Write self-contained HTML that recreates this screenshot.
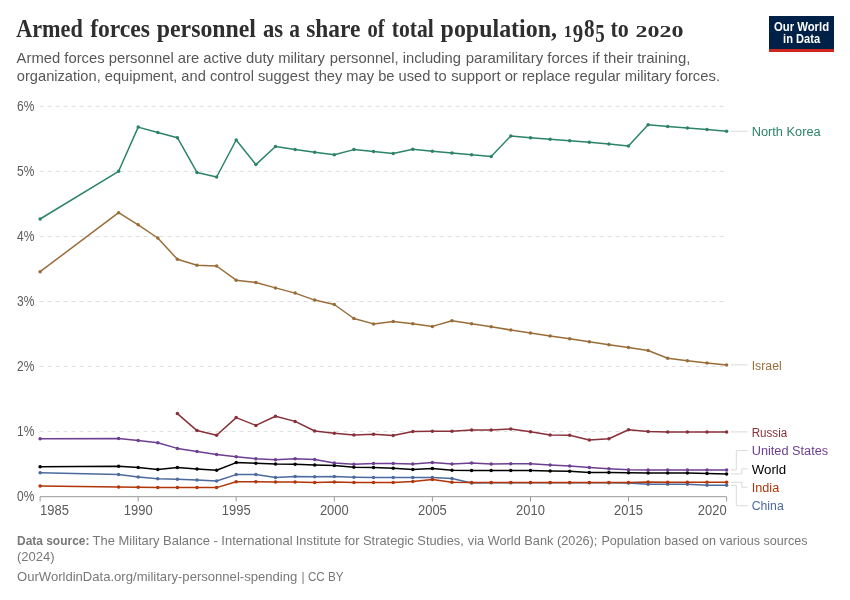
<!DOCTYPE html>
<html lang="en">
<head>
<meta charset="utf-8">
<title>Armed forces personnel as a share of total population, 1985 to 2020</title>
<style>
html,body{margin:0;padding:0;background:#fff;}
body{width:850px;height:600px;overflow:hidden;}
svg{display:block;}
text{font-family:"Liberation Sans", sans-serif;}
.title text{font-family:"Liberation Serif", serif;font-weight:700;fill:#2e2e2e;}
.sub{fill:#575757;font-size:15px;}
.tick{fill:#5b5b5b;font-size:14px;}
.foot{fill:#787878;font-size:13px;}
.lab{font-size:13.7px;}
.grid line{stroke:#ddd;stroke-width:1;stroke-dasharray:4 4;}
.conn{stroke:#dadada;stroke-width:1;fill:none;}
.logo{fill:#fff;font-weight:700;font-size:12.9px;text-anchor:middle;}
</style>
</head>
<body>
<svg width="850" height="600" viewBox="0 0 850 600">
<rect x="0" y="0" width="850" height="600" fill="#fff"/>
<g class="title" font-size="24.8">
<text x="16.2" y="36.9" textLength="66.6" lengthAdjust="spacingAndGlyphs">Armed</text>
<text x="90.2" y="36.9" textLength="59.8" lengthAdjust="spacingAndGlyphs">forces</text>
<text x="156.8" y="36.9" textLength="99.2" lengthAdjust="spacingAndGlyphs">personnel</text>
<text x="263.0" y="36.9" textLength="20.1" lengthAdjust="spacingAndGlyphs">as</text>
<text x="289.3" y="36.9" textLength="10.7" lengthAdjust="spacingAndGlyphs">a</text>
<text x="306.2" y="36.9" textLength="54.2" lengthAdjust="spacingAndGlyphs">share</text>
<text x="367.5" y="36.9" textLength="17.1" lengthAdjust="spacingAndGlyphs">of</text>
<text x="391.8" y="36.9" textLength="42.0" lengthAdjust="spacingAndGlyphs">total</text>
<text x="440.6" y="36.9" textLength="116.4" lengthAdjust="spacingAndGlyphs">population,</text>
<text y="36.9" lengthAdjust="spacingAndGlyphs"><tspan x="563.8" font-size="17.6" textLength="8.2" lengthAdjust="spacingAndGlyphs">1</tspan><tspan x="572.8" dy="4.6" font-size="24.8" textLength="10.4" lengthAdjust="spacingAndGlyphs">9</tspan><tspan x="584" dy="-4.6" font-size="24.8" textLength="10.6" lengthAdjust="spacingAndGlyphs">8</tspan><tspan x="595.2" dy="4.6" font-size="24.8" textLength="9.5" lengthAdjust="spacingAndGlyphs">5</tspan></text>
<text x="610.4" y="36.9" textLength="18.3" lengthAdjust="spacingAndGlyphs">to</text>
<text x="635.5" y="36.9" font-size="17.6" textLength="48.0" lengthAdjust="spacingAndGlyphs">2020</text>
</g>
<text class="sub" x="16.6" y="63.0" textLength="308.4" lengthAdjust="spacingAndGlyphs">Armed forces personnel are active duty military</text>
<text class="sub" x="329.8" y="63.0" textLength="131.2" lengthAdjust="spacingAndGlyphs">personnel, including</text>
<text class="sub" x="465.8" y="63.0" textLength="224.6" lengthAdjust="spacingAndGlyphs">paramilitary forces if their training,</text>
<text class="sub" x="16.8" y="81.2" textLength="292.5" lengthAdjust="spacingAndGlyphs">organization, equipment, and control suggest</text>
<text class="sub" x="314.6" y="81.2" textLength="132.0" lengthAdjust="spacingAndGlyphs">they may be used to</text>
<text class="sub" x="451.2" y="81.2" textLength="268.8" lengthAdjust="spacingAndGlyphs">support or replace regular military forces.</text>
<g><rect x="769" y="16" width="65" height="36" fill="#002147"/><rect x="769" y="49" width="65" height="3" fill="#ce261e"/>
<text class="logo" x="801.5" y="30.7" textLength="55.2" lengthAdjust="spacingAndGlyphs">Our World</text>
<text class="logo" x="801.6" y="42.7" textLength="37" lengthAdjust="spacingAndGlyphs">in Data</text></g>
<g class="grid">
<line x1="39.6" x2="726.5" y1="106.3" y2="106.3"/>
<line x1="39.6" x2="726.5" y1="171.4" y2="171.4"/>
<line x1="39.6" x2="726.5" y1="236.4" y2="236.4"/>
<line x1="39.6" x2="726.5" y1="301.5" y2="301.5"/>
<line x1="39.6" x2="726.5" y1="366.5" y2="366.5"/>
<line x1="39.6" x2="726.5" y1="431.6" y2="431.6"/>
</g>
<text class="tick" x="34.3" y="110.8" text-anchor="end" textLength="17.3" lengthAdjust="spacingAndGlyphs">6%</text>
<text class="tick" x="34.3" y="175.9" text-anchor="end" textLength="17.3" lengthAdjust="spacingAndGlyphs">5%</text>
<text class="tick" x="34.3" y="240.9" text-anchor="end" textLength="17.3" lengthAdjust="spacingAndGlyphs">4%</text>
<text class="tick" x="34.3" y="306.0" text-anchor="end" textLength="17.3" lengthAdjust="spacingAndGlyphs">3%</text>
<text class="tick" x="34.3" y="371.0" text-anchor="end" textLength="17.3" lengthAdjust="spacingAndGlyphs">2%</text>
<text class="tick" x="34.3" y="436.1" text-anchor="end" textLength="17.3" lengthAdjust="spacingAndGlyphs">1%</text>
<text class="tick" x="34.3" y="501.2" text-anchor="end" textLength="17.3" lengthAdjust="spacingAndGlyphs">0%</text>
<line x1="40" x2="726.5" y1="496.7" y2="496.7" stroke="#999" stroke-width="1"/>
<line x1="40.1" x2="40.1" y1="496.7" y2="501.5" stroke="#999" stroke-width="1"/>
<text class="tick" x="40.1" y="514.8" text-anchor="start" textLength="28.8" lengthAdjust="spacingAndGlyphs">1985</text>
<line x1="138.2" x2="138.2" y1="496.7" y2="501.5" stroke="#999" stroke-width="1"/>
<text class="tick" x="138.2" y="514.8" text-anchor="middle" textLength="28.8" lengthAdjust="spacingAndGlyphs">1990</text>
<line x1="236.2" x2="236.2" y1="496.7" y2="501.5" stroke="#999" stroke-width="1"/>
<text class="tick" x="236.2" y="514.8" text-anchor="middle" textLength="28.8" lengthAdjust="spacingAndGlyphs">1995</text>
<line x1="334.3" x2="334.3" y1="496.7" y2="501.5" stroke="#999" stroke-width="1"/>
<text class="tick" x="334.3" y="514.8" text-anchor="middle" textLength="28.8" lengthAdjust="spacingAndGlyphs">2000</text>
<line x1="432.4" x2="432.4" y1="496.7" y2="501.5" stroke="#999" stroke-width="1"/>
<text class="tick" x="432.4" y="514.8" text-anchor="middle" textLength="28.8" lengthAdjust="spacingAndGlyphs">2005</text>
<line x1="530.5" x2="530.5" y1="496.7" y2="501.5" stroke="#999" stroke-width="1"/>
<text class="tick" x="530.5" y="514.8" text-anchor="middle" textLength="28.8" lengthAdjust="spacingAndGlyphs">2010</text>
<line x1="628.5" x2="628.5" y1="496.7" y2="501.5" stroke="#999" stroke-width="1"/>
<text class="tick" x="628.5" y="514.8" text-anchor="middle" textLength="28.8" lengthAdjust="spacingAndGlyphs">2015</text>
<line x1="726.6" x2="726.6" y1="496.7" y2="501.5" stroke="#999" stroke-width="1"/>
<text class="tick" x="726.6" y="514.8" text-anchor="end" textLength="28.8" lengthAdjust="spacingAndGlyphs">2020</text>
<g fill="#2c8465"><path d="M40.1,219.0 L118.6,171.3 L138.2,127.1 L157.8,132.5 L177.4,137.7 L197.0,172.4 L216.6,177.0 L236.2,140.0 L255.9,164.6 L275.5,146.5 L295.1,149.6 L314.7,152.2 L334.3,154.8 L353.9,149.6 L373.5,151.4 L393.2,153.5 L412.8,149.3 L432.4,151.3 L452.0,153.0 L471.6,154.8 L491.2,156.6 L510.8,135.9 L530.5,137.7 L550.1,139.2 L569.7,140.8 L589.3,142.3 L608.9,143.9 L628.5,146.0 L648.1,124.7 L667.7,126.4 L687.4,128.1 L707.0,129.5 L726.6,131.2" fill="none" stroke="#2c8465" stroke-width="1.5" stroke-linejoin="round" stroke-linecap="round"/>
<circle cx="40.1" cy="219.0" r="1.75"/><circle cx="118.6" cy="171.3" r="1.75"/><circle cx="138.2" cy="127.1" r="1.75"/><circle cx="157.8" cy="132.5" r="1.75"/><circle cx="177.4" cy="137.7" r="1.75"/><circle cx="197.0" cy="172.4" r="1.75"/><circle cx="216.6" cy="177.0" r="1.75"/><circle cx="236.2" cy="140.0" r="1.75"/><circle cx="255.9" cy="164.6" r="1.75"/><circle cx="275.5" cy="146.5" r="1.75"/><circle cx="295.1" cy="149.6" r="1.75"/><circle cx="314.7" cy="152.2" r="1.75"/><circle cx="334.3" cy="154.8" r="1.75"/><circle cx="353.9" cy="149.6" r="1.75"/><circle cx="373.5" cy="151.4" r="1.75"/><circle cx="393.2" cy="153.5" r="1.75"/><circle cx="412.8" cy="149.3" r="1.75"/><circle cx="432.4" cy="151.3" r="1.75"/><circle cx="452.0" cy="153.0" r="1.75"/><circle cx="471.6" cy="154.8" r="1.75"/><circle cx="491.2" cy="156.6" r="1.75"/><circle cx="510.8" cy="135.9" r="1.75"/><circle cx="530.5" cy="137.7" r="1.75"/><circle cx="550.1" cy="139.2" r="1.75"/><circle cx="569.7" cy="140.8" r="1.75"/><circle cx="589.3" cy="142.3" r="1.75"/><circle cx="608.9" cy="143.9" r="1.75"/><circle cx="628.5" cy="146.0" r="1.75"/><circle cx="648.1" cy="124.7" r="1.75"/><circle cx="667.7" cy="126.4" r="1.75"/><circle cx="687.4" cy="128.1" r="1.75"/><circle cx="707.0" cy="129.5" r="1.75"/><circle cx="726.6" cy="131.2" r="1.75"/></g>
<g fill="#996d39"><path d="M40.1,271.7 L118.6,212.7 L138.2,224.8 L157.8,238.0 L177.4,259.3 L197.0,265.2 L216.6,266.0 L236.2,280.2 L255.9,282.5 L275.5,287.9 L295.1,293.1 L314.7,300.1 L334.3,304.5 L353.9,318.5 L373.5,323.9 L393.2,321.6 L412.8,323.7 L432.4,326.4 L452.0,320.7 L471.6,323.8 L491.2,326.7 L510.8,330.0 L530.5,332.9 L550.1,336.0 L569.7,338.8 L589.3,341.7 L608.9,344.8 L628.5,347.4 L648.1,350.5 L667.7,358.2 L687.4,360.7 L707.0,363.0 L726.6,364.9" fill="none" stroke="#996d39" stroke-width="1.5" stroke-linejoin="round" stroke-linecap="round"/>
<circle cx="40.1" cy="271.7" r="1.75"/><circle cx="118.6" cy="212.7" r="1.75"/><circle cx="138.2" cy="224.8" r="1.75"/><circle cx="157.8" cy="238.0" r="1.75"/><circle cx="177.4" cy="259.3" r="1.75"/><circle cx="197.0" cy="265.2" r="1.75"/><circle cx="216.6" cy="266.0" r="1.75"/><circle cx="236.2" cy="280.2" r="1.75"/><circle cx="255.9" cy="282.5" r="1.75"/><circle cx="275.5" cy="287.9" r="1.75"/><circle cx="295.1" cy="293.1" r="1.75"/><circle cx="314.7" cy="300.1" r="1.75"/><circle cx="334.3" cy="304.5" r="1.75"/><circle cx="353.9" cy="318.5" r="1.75"/><circle cx="373.5" cy="323.9" r="1.75"/><circle cx="393.2" cy="321.6" r="1.75"/><circle cx="412.8" cy="323.7" r="1.75"/><circle cx="432.4" cy="326.4" r="1.75"/><circle cx="452.0" cy="320.7" r="1.75"/><circle cx="471.6" cy="323.8" r="1.75"/><circle cx="491.2" cy="326.7" r="1.75"/><circle cx="510.8" cy="330.0" r="1.75"/><circle cx="530.5" cy="332.9" r="1.75"/><circle cx="550.1" cy="336.0" r="1.75"/><circle cx="569.7" cy="338.8" r="1.75"/><circle cx="589.3" cy="341.7" r="1.75"/><circle cx="608.9" cy="344.8" r="1.75"/><circle cx="628.5" cy="347.4" r="1.75"/><circle cx="648.1" cy="350.5" r="1.75"/><circle cx="667.7" cy="358.2" r="1.75"/><circle cx="687.4" cy="360.7" r="1.75"/><circle cx="707.0" cy="363.0" r="1.75"/><circle cx="726.6" cy="364.9" r="1.75"/></g>
<g fill="#4c6a9c"><path d="M40.1,472.8 L118.6,474.4 L138.2,477.0 L157.8,478.8 L177.4,479.2 L197.0,480.0 L216.6,481.0 L236.2,474.6 L255.9,474.6 L275.5,477.4 L295.1,476.6 L314.7,476.8 L334.3,476.4 L353.9,477.2 L373.5,477.6 L393.2,477.6 L412.8,477.6 L432.4,477.6 L452.0,478.6 L471.6,483.0 L491.2,482.8 L510.8,482.7 L530.5,482.7 L550.1,482.7 L569.7,482.7 L589.3,482.7 L608.9,482.7 L628.5,483.0 L648.1,484.3 L667.7,484.2 L687.4,484.2 L707.0,485.2 L726.6,485.2" fill="none" stroke="#4c6a9c" stroke-width="1.5" stroke-linejoin="round" stroke-linecap="round"/>
<circle cx="40.1" cy="472.8" r="1.75"/><circle cx="118.6" cy="474.4" r="1.75"/><circle cx="138.2" cy="477.0" r="1.75"/><circle cx="157.8" cy="478.8" r="1.75"/><circle cx="177.4" cy="479.2" r="1.75"/><circle cx="197.0" cy="480.0" r="1.75"/><circle cx="216.6" cy="481.0" r="1.75"/><circle cx="236.2" cy="474.6" r="1.75"/><circle cx="255.9" cy="474.6" r="1.75"/><circle cx="275.5" cy="477.4" r="1.75"/><circle cx="295.1" cy="476.6" r="1.75"/><circle cx="314.7" cy="476.8" r="1.75"/><circle cx="334.3" cy="476.4" r="1.75"/><circle cx="353.9" cy="477.2" r="1.75"/><circle cx="373.5" cy="477.6" r="1.75"/><circle cx="393.2" cy="477.6" r="1.75"/><circle cx="412.8" cy="477.6" r="1.75"/><circle cx="432.4" cy="477.6" r="1.75"/><circle cx="452.0" cy="478.6" r="1.75"/><circle cx="471.6" cy="483.0" r="1.75"/><circle cx="491.2" cy="482.8" r="1.75"/><circle cx="510.8" cy="482.7" r="1.75"/><circle cx="530.5" cy="482.7" r="1.75"/><circle cx="550.1" cy="482.7" r="1.75"/><circle cx="569.7" cy="482.7" r="1.75"/><circle cx="589.3" cy="482.7" r="1.75"/><circle cx="608.9" cy="482.7" r="1.75"/><circle cx="628.5" cy="483.0" r="1.75"/><circle cx="648.1" cy="484.3" r="1.75"/><circle cx="667.7" cy="484.2" r="1.75"/><circle cx="687.4" cy="484.2" r="1.75"/><circle cx="707.0" cy="485.2" r="1.75"/><circle cx="726.6" cy="485.2" r="1.75"/></g>
<g fill="#b13507"><path d="M40.1,486.0 L118.6,487.0 L138.2,487.2 L157.8,487.4 L177.4,487.4 L197.0,487.6 L216.6,487.6 L236.2,481.8 L255.9,481.8 L275.5,482.0 L295.1,482.0 L314.7,482.4 L334.3,482.0 L353.9,482.4 L373.5,482.4 L393.2,482.4 L412.8,481.4 L432.4,479.4 L452.0,482.2 L471.6,482.4 L491.2,482.6 L510.8,482.6 L530.5,482.6 L550.1,482.6 L569.7,482.6 L589.3,482.6 L608.9,482.6 L628.5,482.6 L648.1,482.0 L667.7,482.3 L687.4,482.3 L707.0,482.3 L726.6,482.3" fill="none" stroke="#b13507" stroke-width="1.5" stroke-linejoin="round" stroke-linecap="round"/>
<circle cx="40.1" cy="486.0" r="1.75"/><circle cx="118.6" cy="487.0" r="1.75"/><circle cx="138.2" cy="487.2" r="1.75"/><circle cx="157.8" cy="487.4" r="1.75"/><circle cx="177.4" cy="487.4" r="1.75"/><circle cx="197.0" cy="487.6" r="1.75"/><circle cx="216.6" cy="487.6" r="1.75"/><circle cx="236.2" cy="481.8" r="1.75"/><circle cx="255.9" cy="481.8" r="1.75"/><circle cx="275.5" cy="482.0" r="1.75"/><circle cx="295.1" cy="482.0" r="1.75"/><circle cx="314.7" cy="482.4" r="1.75"/><circle cx="334.3" cy="482.0" r="1.75"/><circle cx="353.9" cy="482.4" r="1.75"/><circle cx="373.5" cy="482.4" r="1.75"/><circle cx="393.2" cy="482.4" r="1.75"/><circle cx="412.8" cy="481.4" r="1.75"/><circle cx="432.4" cy="479.4" r="1.75"/><circle cx="452.0" cy="482.2" r="1.75"/><circle cx="471.6" cy="482.4" r="1.75"/><circle cx="491.2" cy="482.6" r="1.75"/><circle cx="510.8" cy="482.6" r="1.75"/><circle cx="530.5" cy="482.6" r="1.75"/><circle cx="550.1" cy="482.6" r="1.75"/><circle cx="569.7" cy="482.6" r="1.75"/><circle cx="589.3" cy="482.6" r="1.75"/><circle cx="608.9" cy="482.6" r="1.75"/><circle cx="628.5" cy="482.6" r="1.75"/><circle cx="648.1" cy="482.0" r="1.75"/><circle cx="667.7" cy="482.3" r="1.75"/><circle cx="687.4" cy="482.3" r="1.75"/><circle cx="707.0" cy="482.3" r="1.75"/><circle cx="726.6" cy="482.3" r="1.75"/></g>
<g fill="#000000"><path d="M40.1,466.8 L118.6,466.2 L138.2,467.4 L157.8,469.4 L177.4,467.6 L197.0,469.0 L216.6,470.2 L236.2,462.6 L255.9,463.2 L275.5,464.0 L295.1,464.2 L314.7,465.0 L334.3,465.6 L353.9,467.3 L373.5,467.6 L393.2,468.2 L412.8,469.6 L432.4,468.6 L452.0,470.2 L471.6,470.4 L491.2,470.4 L510.8,470.4 L530.5,470.4 L550.1,471.0 L569.7,471.2 L589.3,472.4 L608.9,472.4 L628.5,472.8 L648.1,473.0 L667.7,473.1 L687.4,473.1 L707.0,473.6 L726.6,473.9" fill="none" stroke="#000000" stroke-width="1.5" stroke-linejoin="round" stroke-linecap="round"/>
<circle cx="40.1" cy="466.8" r="1.75"/><circle cx="118.6" cy="466.2" r="1.75"/><circle cx="138.2" cy="467.4" r="1.75"/><circle cx="157.8" cy="469.4" r="1.75"/><circle cx="177.4" cy="467.6" r="1.75"/><circle cx="197.0" cy="469.0" r="1.75"/><circle cx="216.6" cy="470.2" r="1.75"/><circle cx="236.2" cy="462.6" r="1.75"/><circle cx="255.9" cy="463.2" r="1.75"/><circle cx="275.5" cy="464.0" r="1.75"/><circle cx="295.1" cy="464.2" r="1.75"/><circle cx="314.7" cy="465.0" r="1.75"/><circle cx="334.3" cy="465.6" r="1.75"/><circle cx="353.9" cy="467.3" r="1.75"/><circle cx="373.5" cy="467.6" r="1.75"/><circle cx="393.2" cy="468.2" r="1.75"/><circle cx="412.8" cy="469.6" r="1.75"/><circle cx="432.4" cy="468.6" r="1.75"/><circle cx="452.0" cy="470.2" r="1.75"/><circle cx="471.6" cy="470.4" r="1.75"/><circle cx="491.2" cy="470.4" r="1.75"/><circle cx="510.8" cy="470.4" r="1.75"/><circle cx="530.5" cy="470.4" r="1.75"/><circle cx="550.1" cy="471.0" r="1.75"/><circle cx="569.7" cy="471.2" r="1.75"/><circle cx="589.3" cy="472.4" r="1.75"/><circle cx="608.9" cy="472.4" r="1.75"/><circle cx="628.5" cy="472.8" r="1.75"/><circle cx="648.1" cy="473.0" r="1.75"/><circle cx="667.7" cy="473.1" r="1.75"/><circle cx="687.4" cy="473.1" r="1.75"/><circle cx="707.0" cy="473.6" r="1.75"/><circle cx="726.6" cy="473.9" r="1.75"/></g>
<g fill="#6d3e91"><path d="M40.1,438.8 L118.6,438.4 L138.2,440.6 L157.8,442.8 L177.4,448.4 L197.0,451.5 L216.6,454.4 L236.2,456.8 L255.9,458.8 L275.5,459.8 L295.1,458.8 L314.7,459.6 L334.3,463.0 L353.9,464.2 L373.5,463.4 L393.2,463.4 L412.8,464.0 L432.4,462.6 L452.0,464.0 L471.6,463.0 L491.2,464.0 L510.8,463.8 L530.5,463.8 L550.1,465.0 L569.7,466.0 L589.3,467.6 L608.9,468.8 L628.5,469.8 L648.1,470.0 L667.7,469.9 L687.4,469.9 L707.0,469.9 L726.6,469.9" fill="none" stroke="#6d3e91" stroke-width="1.5" stroke-linejoin="round" stroke-linecap="round"/>
<circle cx="40.1" cy="438.8" r="1.75"/><circle cx="118.6" cy="438.4" r="1.75"/><circle cx="138.2" cy="440.6" r="1.75"/><circle cx="157.8" cy="442.8" r="1.75"/><circle cx="177.4" cy="448.4" r="1.75"/><circle cx="197.0" cy="451.5" r="1.75"/><circle cx="216.6" cy="454.4" r="1.75"/><circle cx="236.2" cy="456.8" r="1.75"/><circle cx="255.9" cy="458.8" r="1.75"/><circle cx="275.5" cy="459.8" r="1.75"/><circle cx="295.1" cy="458.8" r="1.75"/><circle cx="314.7" cy="459.6" r="1.75"/><circle cx="334.3" cy="463.0" r="1.75"/><circle cx="353.9" cy="464.2" r="1.75"/><circle cx="373.5" cy="463.4" r="1.75"/><circle cx="393.2" cy="463.4" r="1.75"/><circle cx="412.8" cy="464.0" r="1.75"/><circle cx="432.4" cy="462.6" r="1.75"/><circle cx="452.0" cy="464.0" r="1.75"/><circle cx="471.6" cy="463.0" r="1.75"/><circle cx="491.2" cy="464.0" r="1.75"/><circle cx="510.8" cy="463.8" r="1.75"/><circle cx="530.5" cy="463.8" r="1.75"/><circle cx="550.1" cy="465.0" r="1.75"/><circle cx="569.7" cy="466.0" r="1.75"/><circle cx="589.3" cy="467.6" r="1.75"/><circle cx="608.9" cy="468.8" r="1.75"/><circle cx="628.5" cy="469.8" r="1.75"/><circle cx="648.1" cy="470.0" r="1.75"/><circle cx="667.7" cy="469.9" r="1.75"/><circle cx="687.4" cy="469.9" r="1.75"/><circle cx="707.0" cy="469.9" r="1.75"/><circle cx="726.6" cy="469.9" r="1.75"/></g>
<g fill="#883039"><path d="M177.4,413.6 L197.0,430.6 L216.6,435.2 L236.2,417.6 L255.9,425.4 L275.5,416.2 L295.1,421.4 L314.7,431.0 L334.3,433.2 L353.9,435.0 L373.5,434.2 L393.2,435.6 L412.8,431.4 L432.4,431.2 L452.0,431.2 L471.6,430.0 L491.2,430.0 L510.8,429.0 L530.5,431.8 L550.1,435.0 L569.7,435.2 L589.3,440.0 L608.9,438.8 L628.5,429.8 L648.1,431.6 L667.7,431.9 L687.4,431.9 L707.0,432.1 L726.6,431.9" fill="none" stroke="#883039" stroke-width="1.5" stroke-linejoin="round" stroke-linecap="round"/>
<circle cx="177.4" cy="413.6" r="1.75"/><circle cx="197.0" cy="430.6" r="1.75"/><circle cx="216.6" cy="435.2" r="1.75"/><circle cx="236.2" cy="417.6" r="1.75"/><circle cx="255.9" cy="425.4" r="1.75"/><circle cx="275.5" cy="416.2" r="1.75"/><circle cx="295.1" cy="421.4" r="1.75"/><circle cx="314.7" cy="431.0" r="1.75"/><circle cx="334.3" cy="433.2" r="1.75"/><circle cx="353.9" cy="435.0" r="1.75"/><circle cx="373.5" cy="434.2" r="1.75"/><circle cx="393.2" cy="435.6" r="1.75"/><circle cx="412.8" cy="431.4" r="1.75"/><circle cx="432.4" cy="431.2" r="1.75"/><circle cx="452.0" cy="431.2" r="1.75"/><circle cx="471.6" cy="430.0" r="1.75"/><circle cx="491.2" cy="430.0" r="1.75"/><circle cx="510.8" cy="429.0" r="1.75"/><circle cx="530.5" cy="431.8" r="1.75"/><circle cx="550.1" cy="435.0" r="1.75"/><circle cx="569.7" cy="435.2" r="1.75"/><circle cx="589.3" cy="440.0" r="1.75"/><circle cx="608.9" cy="438.8" r="1.75"/><circle cx="628.5" cy="429.8" r="1.75"/><circle cx="648.1" cy="431.6" r="1.75"/><circle cx="667.7" cy="431.9" r="1.75"/><circle cx="687.4" cy="431.9" r="1.75"/><circle cx="707.0" cy="432.1" r="1.75"/><circle cx="726.6" cy="431.9" r="1.75"/></g>
<path class="conn" d="M731,131.2 L747.6,131.2"/>
<text class="lab" x="751.7" y="135.7" fill="#2c8465" textLength="69.0" lengthAdjust="spacingAndGlyphs">North Korea</text>
<path class="conn" d="M731,364.9 L747.6,364.9"/>
<text class="lab" x="751.7" y="369.8" fill="#996d39" textLength="30.0" lengthAdjust="spacingAndGlyphs">Israel</text>
<path class="conn" d="M731,431.9 L747.6,431.9"/>
<text class="lab" x="751.7" y="436.9" fill="#883039" textLength="35.5" lengthAdjust="spacingAndGlyphs">Russia</text>
<path class="conn" d="M731,469.9 L736.3,469.9 L736.3,450.6 L747.6,450.6"/>
<text class="lab" x="751.7" y="455.2" fill="#6d3e91" textLength="76.5" lengthAdjust="spacingAndGlyphs">United States</text>
<path class="conn" d="M731,473.9 L741.8,473.9 L741.8,468.9 L747.6,468.9"/>
<text class="lab" x="751.7" y="473.5" fill="#000000" textLength="34.5" lengthAdjust="spacingAndGlyphs">World</text>
<path class="conn" d="M731,482.3 L741.8,482.3 L741.8,487.2 L747.6,487.2"/>
<text class="lab" x="751.7" y="491.8" fill="#b13507" textLength="27.5" lengthAdjust="spacingAndGlyphs">India</text>
<path class="conn" d="M731,485.2 L736.3,485.2 L736.3,505.7 L747.6,505.7"/>
<text class="lab" x="751.7" y="510.1" fill="#4c6a9c" textLength="32.0" lengthAdjust="spacingAndGlyphs">China</text>
<text class="foot" x="17" y="545.2" font-weight="700" textLength="72.4" lengthAdjust="spacingAndGlyphs">Data source:</text>
<text class="foot" x="92.6" y="545.2" textLength="200.0" lengthAdjust="spacingAndGlyphs">The Military Balance - International</text>
<text class="foot" x="295.8" y="545.2" textLength="168.0" lengthAdjust="spacingAndGlyphs">Institute for Strategic Studies,</text>
<text class="foot" x="467.8" y="545.2" textLength="129.6" lengthAdjust="spacingAndGlyphs">via World Bank (2026);</text>
<text class="foot" x="601.4" y="545.2" textLength="206.2" lengthAdjust="spacingAndGlyphs">Population based on various sources</text>
<text class="foot" x="17" y="560.6">(2024)</text>
<text class="foot" x="17" y="580.6" textLength="280.2" lengthAdjust="spacingAndGlyphs">OurWorldinData.org/military-personnel-spending</text>
<text class="foot" x="301.6" y="580.6" textLength="42" lengthAdjust="spacingAndGlyphs">| CC BY</text>
</svg>
</body>
</html>
